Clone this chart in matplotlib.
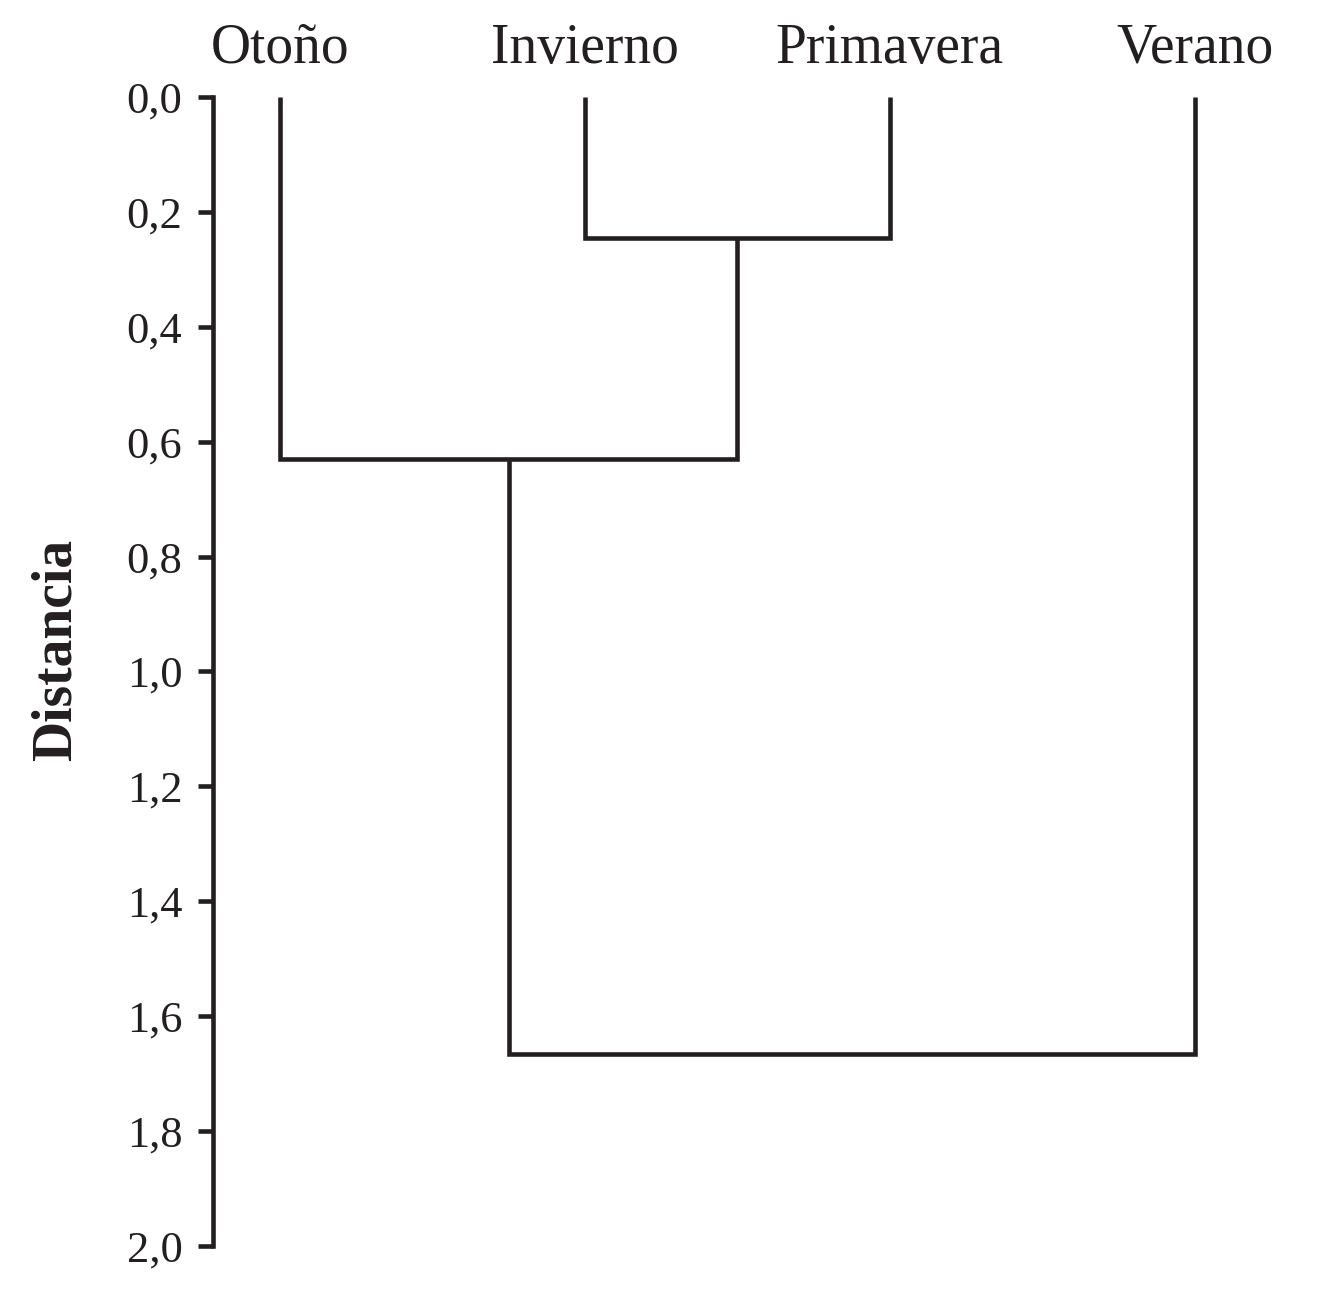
import matplotlib
matplotlib.use("Agg")
import matplotlib.pyplot as plt
import matplotlib.transforms as mtransforms

# Data
leaves = ["Otoño", "Invierno", "Primavera", "Verano"]
# merges: (child_a, child_b, height); ids >= len(leaves) refer to earlier merges
merge_a = [1, 0, 5]
merge_b = [2, 4, 3]
merge_h = [0.245, 0.63, 1.665]
yticks = [0.0, 0.2, 0.4, 0.6, 0.8, 1.0, 1.2, 1.4, 1.6, 1.8, 2.0]
ytick_labels = ["0,0", "0,2", "0,4", "0,6", "0,8", "1,0", "1,2", "1,4", "1,6", "1,8", "2,0"]

color = "#231f20"
lw = 3.3
plt.rcParams["font.family"] = ["Liberation Serif", "DejaVu Serif"]

fig = plt.figure(figsize=(13.26, 12.96), dpi=100)
ax = fig.add_axes([0.1606, 0.0386, 0.8394, 0.8866])

xpos = {i: float(i) for i in range(len(leaves))}
ypos = {i: 0.0 for i in range(len(leaves))}
n = len(leaves)
for k, (a, b, h) in enumerate(zip(merge_a, merge_b, merge_h)):
    xa, xb = xpos[a], xpos[b]
    ya, yb = ypos[a], ypos[b]
    ax.plot([xa, xa, xb, xb], [ya, h, h, yb], color=color, lw=lw,
            solid_joinstyle="miter", solid_capstyle="butt")
    xpos[n + k] = (xa + xb) / 2
    ypos[n + k] = h

ax.set_ylim(2.0, 0.0)
ax.set_xlim(-0.22, 3.43)
ax.set_yticks(yticks)
ax.set_yticklabels(ytick_labels, fontsize=32)
ax.tick_params(axis="y", length=11, width=lw, color=color, pad=11, labelcolor=color)
ax.set_xticks([])
for s in ["top", "right", "bottom"]:
    ax.spines[s].set_visible(False)
ax.spines["left"].set_linewidth(lw)
ax.spines["left"].set_color(color)

trans = mtransforms.blended_transform_factory(ax.transData, ax.transAxes)
for i, name in enumerate(leaves):
    ax.text(i, 1.0296, name, transform=trans, ha="center", va="baseline",
            fontsize=40, color=color)

fig.text(57 / 1326, 1 - 650 / 1296, "Distancia", rotation=90, ha="center",
         va="center", fontsize=40, fontweight="bold", color=color)

fig.savefig("out.png", dpi=100, facecolor="white")
